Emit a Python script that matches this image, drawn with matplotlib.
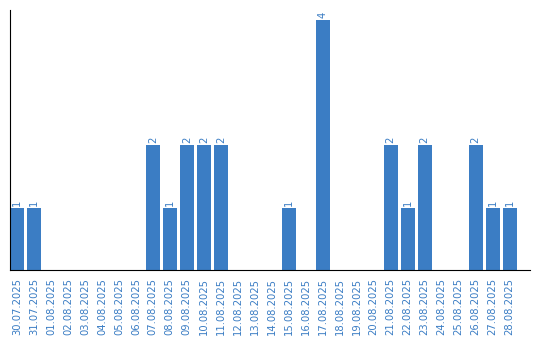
import matplotlib
matplotlib.use('Agg')
import matplotlib.pyplot as plt

# daily counts
dates = ['30.07.2025', '31.07.2025', '01.08.2025', '02.08.2025', '03.08.2025', '04.08.2025',
         '05.08.2025', '06.08.2025', '07.08.2025', '08.08.2025', '09.08.2025', '10.08.2025',
         '11.08.2025', '12.08.2025', '13.08.2025', '14.08.2025', '15.08.2025', '16.08.2025',
         '17.08.2025', '18.08.2025', '19.08.2025', '20.08.2025', '21.08.2025', '22.08.2025',
         '23.08.2025', '24.08.2025', '25.08.2025', '26.08.2025', '27.08.2025', '28.08.2025']
counts = [1, 1, 0, 0, 0, 0, 0, 0, 2, 1, 2, 2, 2, 0, 0, 0, 1, 0, 4, 0, 0, 0, 2, 1, 2, 0, 0, 2, 1, 1]

blue = '#3b7dc4'

fig = plt.figure(figsize=(5.4, 3.4), dpi=100)
ax = fig.add_axes([10/540, 1 - 270/340, 520/540, 260/340])

x = list(range(len(dates)))
bars = ax.bar(x, counts, width=0.82, color=blue)

for xi, v in zip(x, counts):
    if v > 0:
        ax.text(xi, v + 0.03, str(v), rotation=90, ha='center', va='bottom',
                color=blue, fontsize=7.2)

ax.set_xlim(-0.41, 30.2)
ax.set_ylim(0, 4.16)
ax.set_xticks(x)
ax.set_xticklabels(dates, rotation=90, color=blue, fontsize=7.2)
ax.tick_params(axis='x', length=0, pad=6)
ax.set_yticks([])
ax.spines['top'].set_visible(False)
ax.spines['right'].set_visible(False)

fig.savefig('out.png', dpi=100)
